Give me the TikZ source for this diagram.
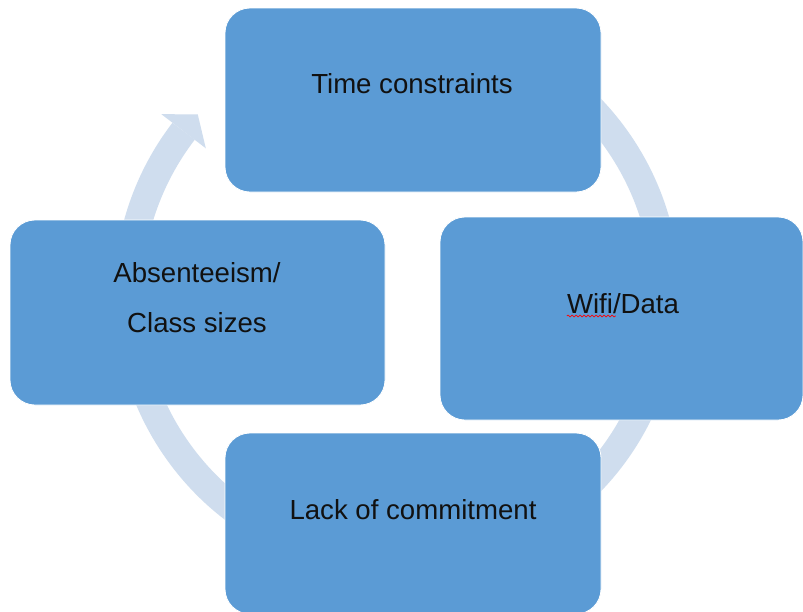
\documentclass[tikz,border=0pt]{standalone}
\usepackage{fontspec}
\setmainfont{Liberation Sans}
\usetikzlibrary{decorations.pathmorphing}
\definecolor{boxblue}{HTML}{5B9BD5}
\definecolor{ringblue}{HTML}{CFDDEE}
\definecolor{txt}{HTML}{111111}
\begin{document}
\begin{tikzpicture}[x=1pt,y=-1pt,
  card/.style={fill=boxblue,draw=white,line width=0.8pt,rounded corners=25pt},
  lbl/.style={anchor=base,inner sep=0pt,text=txt,font=\fontsize{27.6}{33}\selectfont}]
\useasboundingbox[fill=white] (0,0) rectangle (803,611);
% cycle ring with arrow head
\coordinate (c) at (397,295);
\draw[ringblue,line width=28pt] ([shift={(235:269)}]c) arc[start angle=235,end angle=577.5,radius=269];
\fill[ringblue] ([shift={(217.5:297)}]c) -- ([shift={(222.2:269)}]c) -- ([shift={(217.5:241)}]c) -- cycle;
% boxes
\path[card] (225,8) rectangle (601,192);
\path[card] (440,217) rectangle (803,420);
\path[card] (225,433) rectangle (601,614);
\path[card] (10,220) rectangle (385,405);
% labels
\node[lbl] (time) at (412,93) {Time constraints};
\node[lbl] (wifi) at (623,313) {Wifi/Data};
\node[lbl] (lack) at (413,519) {Lack of commitment};
\node[lbl] (abs1) at (197,282) {Absenteeism/};
\node[lbl] (abs2) at (197,332) {Class sizes};
\draw[red,line width=0.7pt,decorate,decoration={snake,amplitude=0.9pt,segment length=4pt}]
  ([yshift=-3pt]wifi.base west) -- ++(49,0);
\end{tikzpicture}
\end{document}
